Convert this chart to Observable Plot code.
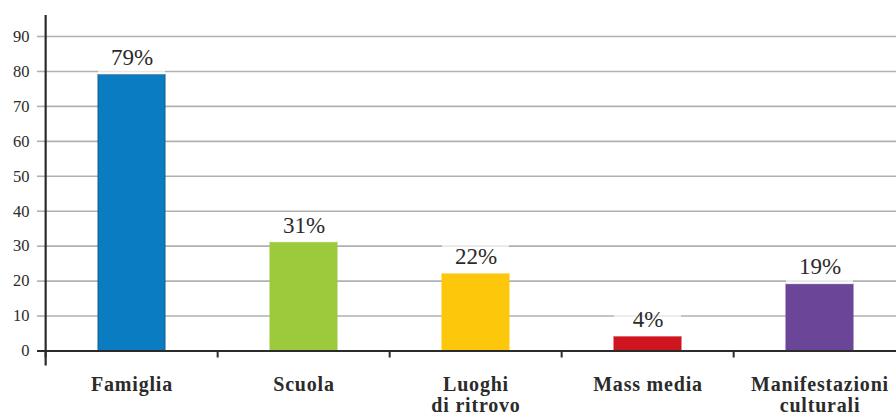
<!DOCTYPE html>
<html>
<head>
<meta charset="utf-8">
<script src="https://cdn.jsdelivr.net/npm/d3@7"></script>
<script src="https://cdn.jsdelivr.net/npm/@observablehq/plot@0.6"></script>
<style>
  html, body { margin: 0; padding: 0; background: #fff; overflow: hidden; }
  #chart { width: 896px; height: 414px; overflow: hidden; }
  #chart svg { display: block; max-width: none !important; }
  #chart svg text { font-family: "Liberation Serif", "DejaVu Serif", serif !important; font-variant: normal !important; }
  #chart svg g[font-weight="bold"] text { letter-spacing: 0.8px; }
</style>
</head>
<body>
<div id="chart"></div>
<script>
// Fonti di socializzazione (valori percentuali)
const categories = ["Famiglia", "Scuola", "Luoghi\ndi ritrovo", "Mass media", "Manifestazioni\nculturali"];
const values = [79, 31, 22, 4, 19];
const fills = ["#0a7dc2", "#9cca3c", "#fdc70c", "#cf161f", "#6a4598"];
const edges = ["#1d5b88", "#9cca3c", "#fdc70c", "#cf161f", "#6a4598"];
const yTicks = [0, 10, 20, 30, 40, 50, 60, 70, 80, 90];

const rows = categories.map((c, i) => ({cat: c, value: values[i], fill: fills[i], edge: edges[i]}));

const W = 908, H = 414;
const mL = 44, mR = 0.5;
const step = (W - mL - mR) / categories.length;
const serif = "Liberation Serif, DejaVu Serif, serif";
const grid = "#b1b1b5";
const ink = "#2b2b2b";

const chart = Plot.plot({
  width: W,
  height: H,
  marginLeft: mL,
  marginRight: mR,
  marginTop: 36,
  marginBottom: 63.5,
  style: {fontFamily: serif, background: "#fff", overflow: "visible"},
  x: {domain: categories, paddingInner: 0.61, paddingOuter: 0.305, label: null},
  y: {domain: [0, 90], ticks: yTicks, label: null},
  marks: [
    // griglia orizzontale, prolungata a sinistra dell'asse
    Plot.gridY(yTicks.slice(1), {stroke: grid, strokeOpacity: 1, strokeWidth: 1.6}),
    Plot.axisY(yTicks.slice(1), {tickSize: 7, stroke: grid, strokeWidth: 1.6, tickPadding: 8,
      fontSize: 16.5, fill: ink, label: null}),
    Plot.axisY([0], {tickSize: 0, tickPadding: 15, fontSize: 16.5, fill: ink, label: null}),
    // barre
    Plot.barY(rows, {x: "cat", y: "value", fill: "fill", stroke: "edge", strokeWidth: 1}),
    // alone chiaro dietro le etichette dei valori
    Plot.barY(rows, {x: "cat", y1: "value", y2: d => d.value + 8.5, fill: "#fff", fillOpacity: 0.7}),
    Plot.text(rows, {x: "cat", y: "value", text: d => `${d.value}%`, dy: -17.5,
      fontSize: 23, fill: ink}),
    // asse delle x e tacche tra le categorie
    Plot.ruleY([0], {stroke: ink, strokeWidth: 2.2, insetLeft: -7}),
    Plot.axisX({tickSize: 7, stroke: ink, strokeWidth: 2, dx: -step / 2, tickFormat: () => "", label: null}),
    Plot.axisX({tickSize: 0, tickPadding: 25, fontSize: 20, fontWeight: "bold", fill: ink,
      lineHeight: 1.05, label: null}),
    // asse verticale
    Plot.ruleX([categories[0]], {dx: -step / 2, y1: -4.3, y2: 96, stroke: ink, strokeWidth: 2.2})
  ]
});

document.getElementById("chart").appendChild(chart);
</script>
</body>
</html>
